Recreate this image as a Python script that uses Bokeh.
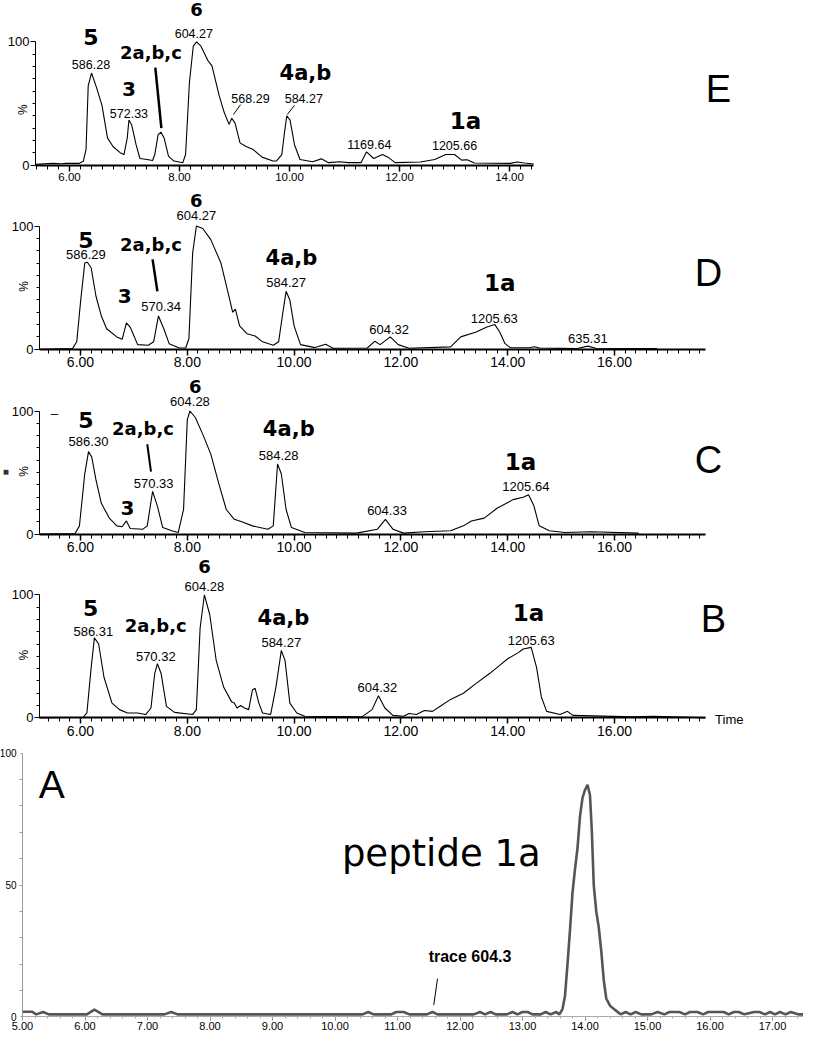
import numpy as np
from bokeh.plotting import figure
from bokeh.models import Range1d, FixedTicker, NumeralTickFormatter, ColumnDataSource
from bokeh.layouts import column
from bokeh.embed import file_html
from bokeh.resources import INLINE
from bokeh.core.properties import value

# ---------------- data ----------------
# Panel E
E_t = [5.38,5.71,5.84,5.94,6.17,6.25,6.30,6.34,6.40,6.49,6.59,6.69,6.79,6.92,6.99,7.05,7.08,7.13,7.21,7.28,7.41,7.51,7.55,7.61,7.66,7.72,7.80,7.90,8.06,8.11,8.18,8.25,8.31,8.39,8.52,8.59,8.72,8.81,8.90,8.95,9.01,9.10,9.21,9.34,9.50,9.70,9.76,9.86,9.91,9.95,10.01,10.09,10.19,10.42,10.58,10.71,10.91,11.07,11.30,11.40,11.53,11.69,11.79,11.92,12.38,12.64,12.84,13.00,13.13,13.23,13.36,14.01,14.14,14.27,14.44]
E_v = [0.5,1.3,1.0,1.3,1.3,3,12.5,64.5,74.7,63,48.5,22,15,10,8.5,22,36.5,32.5,16.5,5.3,4.5,3.7,8.5,24.5,26.7,22,7,3.2,1.9,8.5,67,96.5,100,96.5,84.5,80.5,56.5,43,33,38,34,18,15,12.5,6.4,3.2,3.2,8.5,27,40,36.5,16.5,4.5,2.7,5,1.9,2.7,1.9,1.9,10.7,5.3,8.5,6.4,1.9,2.4,4.5,8.5,8.5,4,4.3,1.6,1.3,2.4,1.6,0.8]
E_lab = ["5","586.28","3","572.33","2a,b,c","6","604.27","568.29","4a,b","584.27","1169.64","1a","1205.66"]
E_lab_t = [6.39,6.39,7.08,7.08,7.48,8.31,8.26,9.29,10.29,10.26,11.45,13.20,13.00]
E_lab_v = [104,82,62,42,91,126,107,54,75,54,17,36,15.5]
E_lead_t0 = [7.56,9.11,10.09]; E_lead_v0 = [79,49,48.5]
E_lead_t1 = [7.67,8.98,9.96]; E_lead_v1 = [30,41,41]
E_lead_w = [2.5,1,1]

# Panel D
D_t = [5.23,5.85,5.93,6.00,6.08,6.13,6.20,6.29,6.39,6.49,6.68,6.78,6.86,6.93,7.07,7.27,7.37,7.46,7.56,7.66,7.85,7.97,8.03,8.10,8.17,8.29,8.44,8.63,8.78,8.85,8.90,8.98,9.12,9.27,9.41,9.61,9.71,9.79,9.85,9.92,10.00,10.12,10.39,10.59,10.73,11.37,11.51,11.61,11.80,11.95,12.15,12.93,13.12,13.41,13.61,13.76,13.85,13.95,14.05,14.40,14.50,14.60,15.30,15.50,15.65,16.80]
D_v = [0,0.5,6,38,70,70.6,66,43,27,16.6,10,8,21.4,18,3.7,3.2,6,27,16.6,4.5,1,1,8.5,78,100,98,89,70,43,30,32.6,19,12.5,10.7,6,3.2,6,30,47,40,19,3.7,1.3,4,0.8,1,6.4,3.7,10,3.7,0.8,1.9,10,14,18,20,14,4.5,1.2,1.2,2.0,1.0,0.5,2.5,0.8,0.5]
D_lab = ["5","586.29","2a,b,c","3","570.34","6","604.27","4a,b","584.27","604.32","1a","1205.63","635.31"]
D_lab_t = [6.10,6.10,7.32,6.83,7.51,8.17,8.17,9.95,9.85,11.78,13.85,13.75,15.50]
D_lab_v = [89,77,85,43,35,121,109,74,54,16,54,25,8.6]
D_lead_t0 = [7.35]; D_lead_v0 = [73]
D_lead_t1 = [7.44]; D_lead_v1 = [47]
D_lead_w = [2.5]

# Panel C
C_t = [5.23,5.90,5.98,6.08,6.15,6.21,6.29,6.39,6.54,6.68,6.78,6.86,6.93,7.17,7.25,7.35,7.44,7.54,7.71,7.83,7.93,8.00,8.05,8.15,8.29,8.44,8.59,8.73,8.88,9.02,9.22,9.51,9.61,9.69,9.76,9.85,9.95,10.20,11.17,11.56,11.71,11.85,12.05,12.44,12.93,13.17,13.32,13.56,13.80,14.10,14.29,14.39,14.49,14.59,14.78,15.07,15.56,16.45]
C_v = [0,0.5,6.7,49,67,62.7,44,25,13,6.7,6,10.7,4.5,4,6.7,34.7,22.7,5.3,2.7,1.3,20,93,100,94.7,81,65,41,20,12,10,6.7,4,6.7,57,49,20,5.3,1.3,0.8,4,12,4,0.8,1.9,2.7,6.7,10.7,13,21,28,30,32,23,6.7,2.7,1.3,1.9,0.8]
C_lab = ["\u2013","5","586.30","2a,b,c","570.33","3","6","604.28","4a,b","584.28","604.33","1a","1205.64"]
C_lab_t = [5.51,6.10,6.15,7.17,7.37,6.88,8.15,8.05,9.90,9.71,11.74,14.24,14.34]
C_lab_v = [98,93,75,86,41,21,120,108,85,64,19,58.7,39]
C_lead_t0 = [7.25]; C_lead_v0 = [73]
C_lead_t1 = [7.32]; C_lead_v1 = [50.7]
C_lead_w = [2.0]

# Panel B
B_t = [5.23,6.05,6.12,6.20,6.26,6.34,6.44,6.59,6.73,6.88,7.07,7.22,7.32,7.39,7.44,7.51,7.61,7.76,8.10,8.17,8.24,8.32,8.42,8.54,8.68,8.83,8.88,8.93,9.00,9.07,9.15,9.22,9.27,9.34,9.41,9.56,9.66,9.76,9.83,9.92,10.05,10.20,11.27,11.46,11.58,11.70,11.85,12.05,12.15,12.29,12.44,12.59,12.73,12.93,13.17,13.41,13.66,13.85,14.00,14.20,14.29,14.44,14.54,14.63,14.73,14.98,15.12,15.22,16.34,16.73,17.41,17.70]
B_v = [0,0.5,4,41,65,60,33,12,6.7,4,4,2.7,8,36,44,36,9.3,4.5,2.7,6.7,73,100,84,47,25,13,12,8,10,8,6.7,22.7,24,12,4,2.7,25,54.7,46.7,12,4,1.3,0.8,6.7,17.9,8,2,1.3,3.5,2.7,6,5.3,9.3,15,20,28,36,42.7,48,53,56,57.3,41,17,5.3,2.7,5.3,2,0.8,1.3,0.5,0]
B_lab = ["5","586.31","2a,b,c","570.32","6","604.28","4a,b","584.27","604.32","1a","1205.63"]
B_lab_t = [6.19,6.24,7.41,7.41,8.32,8.32,9.80,9.76,11.56,14.39,14.44]
B_lab_v = [89,70,75,49.6,123,107,81,61,25,85,63]

# Panel A
A_t = [5.00,5.15,5.22,5.33,5.42,6.03,6.15,6.28,7.27,7.38,7.48,10.44,10.53,10.62,10.90,10.98,11.10,11.19,11.47,11.56,11.64,12.22,12.32,12.40,12.49,12.57,12.75,12.84,12.92,13.00,13.08,13.16,13.29,13.37,13.45,13.54,13.59,13.64,13.68,13.72,13.76,13.80,13.84,13.88,13.92,13.96,14.00,14.04,14.08,14.11,14.14,14.18,14.22,14.26,14.30,14.34,14.40,14.48,14.57,14.65,14.73,14.81,14.90,15.06,15.16,15.27,15.35,15.51,15.60,15.68,15.80,15.89,15.97,16.22,16.30,16.38,16.46,16.55,16.71,16.79,16.88,16.96,17.04,17.12,17.21,17.29,17.41,17.50]
A_v = [2.0,2.0,1.0,1.9,1.0,1.0,2.8,1.0,1.0,1.9,1.0,1.0,1.9,1.0,1.0,1.9,1.9,1.0,1.0,1.9,1.0,1.0,1.9,1.0,1.9,1.0,1.0,1.9,1.0,1.9,1.9,1.0,1.0,1.9,1.0,1.9,1.0,3,8,20,33,47,56,64,76,83,86,88,84,70,50,40,34,25,14,7,4.3,2.7,1.0,1.9,1.0,1.9,1.0,1.0,1.9,1.0,1.9,1.9,1.0,1.9,1.9,1.0,1.9,1.9,1.0,1.9,1.9,1.0,1.9,1.9,1.0,1.9,1.0,1.9,1.0,1.9,1.0,1.0]
A_lab = ["peptide 1a","trace 604.3"]
A_lab_t = [11.70,12.16]
A_lab_v = [62,22.8]
A_lead_t0 = [11.64]; A_lead_v0 = [14.5]
A_lead_t1 = [11.58]; A_lead_v1 = [4.5]

panel_letters = ["E","D","C","B","A"]
letter_t = [17.80,17.76,17.76,17.85,5.47]
letter_v = [62,62,60,80,88]
chrom_ticks = [6, 8, 10, 12, 14, 16]
A_ticks = list(range(5, 18))
y_ticks = [0, 100]
A_y_ticks = [0, 50, 100]

# ---------------- styles ----------------
CMP = {"5": "22px", "3": "20px", "6": "18px", "2a,b,c": "18px", "4a,b": "21px", "1a": "23px"}
SANS = "Liberation Sans"
W = 803


def make_chrom(t, v, lab, lab_t, lab_v, h, xr, yr, xb, li, lead=None, ticks=chrom_ticks,
               tick_px="14px", mz_px="13px", pct_t=4.95, pct_v=51):
    p = figure(width=W, height=h, x_range=Range1d(*xr), y_range=Range1d(*yr),
               output_backend="svg", toolbar_location=None,
               min_border_left=0, min_border_right=0, min_border_top=0, min_border_bottom=0)
    p.outline_line_color = None
    p.grid.visible = False
    p.background_fill_color = "white"
    p.border_fill_color = "white"
    p.line(t, v, line_color="black", line_width=1.1)
    # axes drawn at fixed data positions
    xa = p.xaxis[0]
    xa.fixed_location = 0
    xa.bounds = xb
    xa.ticker = FixedTicker(ticks=[k for k in ticks if xb[0] <= k <= xb[1]],
                            minor_ticks=list(np.round(np.arange(np.ceil(xb[0] * 5) / 5, xb[1], 0.2), 2)))
    xa.formatter = NumeralTickFormatter(format="0.00")
    xa.axis_line_width = 2
    xa.major_tick_out = 6
    xa.major_tick_in = 0
    xa.minor_tick_out = 4
    xa.minor_tick_in = 0
    xa.major_tick_line_width = 1.5
    xa.major_label_standoff = 2
    xa.major_label_text_font = SANS
    xa.major_label_text_font_size = tick_px
    xa.major_label_text_color = "black"
    ya = p.yaxis[0]
    ya.fixed_location = xb[0]
    ya.bounds = (0, 100)
    ya.ticker = FixedTicker(ticks=y_ticks, minor_ticks=list(range(10, 100, 10)))
    ya.major_tick_out = 5
    ya.major_tick_in = 0
    ya.minor_tick_out = 3
    ya.minor_tick_in = 0
    ya.major_label_standoff = 1
    ya.major_label_text_font = SANS
    ya.major_label_text_font_size = "13px"
    ya.major_label_text_color = "black"
    # peak labels
    is_cmp = [s in CMP for s in lab]
    src_c = ColumnDataSource(dict(x=[a for a, c in zip(lab_t, is_cmp) if c],
                                  y=[a for a, c in zip(lab_v, is_cmp) if c],
                                  text=[a for a, c in zip(lab, is_cmp) if c],
                                  size=[CMP[a] for a, c in zip(lab, is_cmp) if c]))
    src_m = ColumnDataSource(dict(x=[a for a, c in zip(lab_t, is_cmp) if not c],
                                  y=[a for a, c in zip(lab_v, is_cmp) if not c],
                                  text=[a for a, c in zip(lab, is_cmp) if not c]))
    p.text(x="x", y="y", text="text", source=src_c, text_font=value("DejaVu Sans"),
           text_font_style="bold", text_font_size="size", text_align="center",
           text_baseline="middle", text_color="black")
    p.text(x="x", y="y", text="text", source=src_m, text_font=value(SANS),
           text_font_size=mz_px, text_align="center", text_baseline="middle", text_color="black")
    if lead is not None:
        p.segment(x0=lead[0], y0=lead[1], x1=lead[2], y1=lead[3], line_width=lead[4], line_color="black")
    p.text(x=[letter_t[li]], y=[letter_v[li]], text=[panel_letters[li]], text_font=value(SANS),
           text_font_size="38px", text_align="center", text_baseline="middle")
    p.text(x=[pct_t], y=[pct_v], text=["%"], angle=np.pi / 2, text_font=value(SANS),
           text_font_size="12px", text_align="center", text_baseline="middle")
    return p


pE = make_chrom(E_t, E_v, E_lab, E_lab_t, E_lab_v, 190, (4.745, 19.345), (-20.7, 133.6),
                (5.382, 14.44), 0, lead=(E_lead_t0, E_lead_v0, E_lead_t1, E_lead_v1, E_lead_w),
                ticks=[6, 8, 10, 12, 14], tick_px="11.5px", mz_px="12.5px", pct_t=5.16, pct_v=45)
pD = make_chrom(D_t, D_v, D_lab, D_lab_t, D_lab_v, 184, (4.502, 19.539), (-20.55, 128.9),
                (5.232, 17.70), 1, lead=(D_lead_t0, D_lead_v0, D_lead_t1, D_lead_v1, D_lead_w))
pC = make_chrom(C_t, C_v, C_lab, C_lab_t, C_lab_v, 183, (4.502, 19.539), (-19.0, 129.65),
                (5.232, 17.70), 2, lead=(C_lead_t0, C_lead_v0, C_lead_t1, C_lead_v1, C_lead_w))
pC.text(x=[4.6], y=[51], text=["\u25a0"], text_font=value(SANS), text_font_size="10px",
        text_align="center", text_baseline="middle", text_color="#333333")
pB = make_chrom(B_t, B_v, B_lab, B_lab_t, B_lab_v, 184, (4.502, 19.539), (-19.2, 130.3),
                (5.232, 17.70), 3)
pB.text(x=[18.15], y=[-1.4], text=["Time"], text_font=value(SANS), text_font_size="13px",
        text_align="center", text_baseline="middle")

# Panel A
pA = figure(width=W, height=293, x_range=Range1d(4.648, 17.496), y_range=Range1d(-6.63, 104.36),
            output_backend="svg", toolbar_location=None,
            min_border_left=0, min_border_right=0, min_border_top=0, min_border_bottom=0)
pA.outline_line_color = None
pA.grid.visible = False
pA.line(A_t, A_v, line_color="#555555", line_width=2.6)
xa = pA.xaxis[0]
xa.fixed_location = 0
xa.bounds = (5.0, 17.5)
xa.ticker = FixedTicker(ticks=A_ticks, minor_ticks=list(np.round(np.arange(5.0, 17.6, 0.2), 2)))
xa.formatter = NumeralTickFormatter(format="0.00")
xa.axis_line_color = "#aaaaaa"
xa.major_tick_line_color = "#888888"
xa.minor_tick_line_color = "#aaaaaa"
xa.major_tick_out = 4
xa.major_tick_in = 0
xa.minor_tick_out = 2
xa.minor_tick_in = 0
xa.major_label_standoff = 1
xa.major_label_text_font = SANS
xa.major_label_text_font_size = "11px"
xa.major_label_text_color = "black"
ya = pA.yaxis[0]
ya.fixed_location = 5.0
ya.bounds = (0, 100)
ya.ticker = FixedTicker(ticks=A_y_ticks, minor_ticks=list(range(10, 100, 10)))
ya.axis_line_color = "#999999"
ya.major_tick_line_color = "#999999"
ya.minor_tick_line_color = "#999999"
ya.major_tick_out = 2
ya.major_tick_in = 0
ya.minor_tick_out = 3
ya.minor_tick_in = 0
ya.major_label_standoff = 3
ya.major_label_text_font = SANS
ya.major_label_text_font_size = "10px"
ya.major_label_text_color = "black"
pA.text(x=[A_lab_t[0]], y=[A_lab_v[0]], text=[A_lab[0]], text_font=value("DejaVu Sans"),
        text_font_size="37px", text_align="center", text_baseline="middle")
pA.text(x=[A_lab_t[1]], y=[A_lab_v[1]], text=[A_lab[1]], text_font=value(SANS),
        text_font_style="bold", text_font_size="16px", text_align="center", text_baseline="middle")
pA.segment(x0=A_lead_t0, y0=A_lead_v0, x1=A_lead_t1, y1=A_lead_v1, line_width=1, line_color="black")
pA.text(x=[letter_t[4]], y=[letter_v[4]], text=[panel_letters[4]], text_font=value(SANS),
        text_font_size="39px", text_align="center", text_baseline="middle")

layout = column(pE, pD, pC, pB, pA, spacing=0)
open("out.html", "w").write(file_html(layout, INLINE))
